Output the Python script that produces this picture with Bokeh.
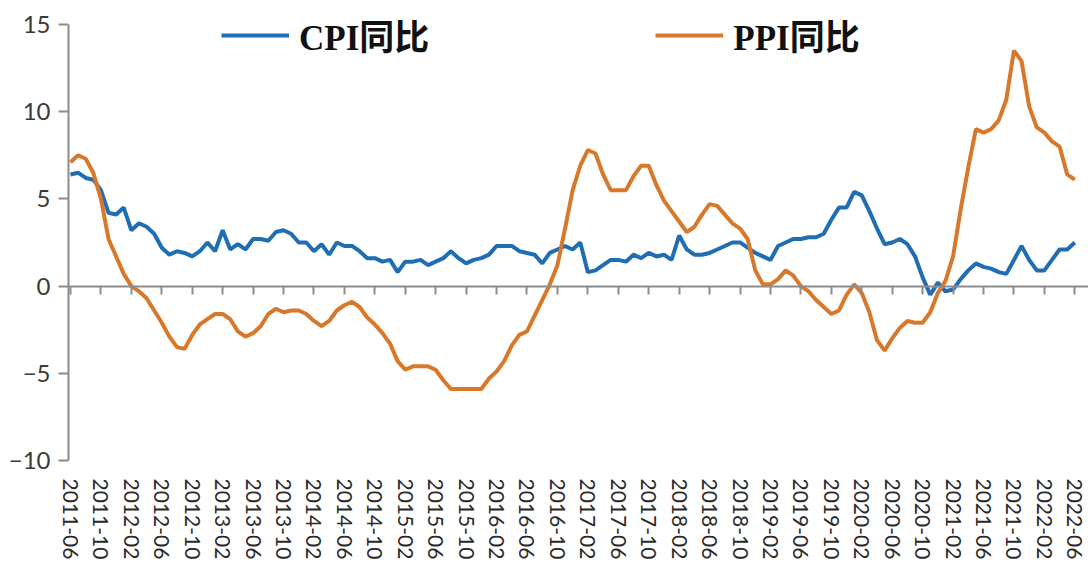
import pandas as pd
from bokeh.plotting import figure
from bokeh.models import Range1d, FixedTicker, LinearAxis, Legend, LegendItem
from bokeh.embed import file_html
from bokeh.resources import INLINE

# ---------------- data ----------------
months = pd.period_range("2011-06", "2022-06", freq="M").strftime("%Y-%m").tolist()

cpi_yoy = [
    6.4, 6.5, 6.2, 6.1, 5.5, 4.2, 4.1,
    4.5, 3.2, 3.6, 3.4, 3.0, 2.2, 1.8, 2.0, 1.9, 1.7, 2.0, 2.5,
    2.0, 3.2, 2.1, 2.4, 2.1, 2.7, 2.7, 2.6, 3.1, 3.2, 3.0, 2.5,
    2.5, 2.0, 2.4, 1.8, 2.5, 2.3, 2.3, 2.0, 1.6, 1.6, 1.4, 1.5,
    0.8, 1.4, 1.4, 1.5, 1.2, 1.4, 1.6, 2.0, 1.6, 1.3, 1.5, 1.6,
    1.8, 2.3, 2.3, 2.3, 2.0, 1.9, 1.8, 1.3, 1.9, 2.1, 2.3, 2.1,
    2.5, 0.8, 0.9, 1.2, 1.5, 1.5, 1.4, 1.8, 1.6, 1.9, 1.7, 1.8,
    1.5, 2.9, 2.1, 1.8, 1.8, 1.9, 2.1, 2.3, 2.5, 2.5, 2.2, 1.9,
    1.7, 1.5, 2.3, 2.5, 2.7, 2.7, 2.8, 2.8, 3.0, 3.8, 4.5, 4.5,
    5.4, 5.2, 4.3, 3.3, 2.4, 2.5, 2.7, 2.4, 1.7, 0.5, -0.5, 0.2,
    -0.3, -0.2, 0.4, 0.9, 1.3, 1.1, 1.0, 0.8, 0.7, 1.5, 2.3, 1.5,
    0.9, 0.9, 1.5, 2.1, 2.1, 2.5,
]

ppi_yoy = [
    7.1, 7.5, 7.3, 6.5, 5.0, 2.7, 1.7,
    0.7, 0.0, -0.3, -0.7, -1.4, -2.1, -2.9, -3.5, -3.6, -2.8, -2.2, -1.9,
    -1.6, -1.6, -1.9, -2.6, -2.9, -2.7, -2.3, -1.6, -1.3, -1.5, -1.4, -1.4,
    -1.6, -2.0, -2.3, -2.0, -1.4, -1.1, -0.9, -1.2, -1.8, -2.2, -2.7, -3.3,
    -4.3, -4.8, -4.6, -4.6, -4.6, -4.8, -5.4, -5.9, -5.9, -5.9, -5.9, -5.9,
    -5.3, -4.9, -4.3, -3.4, -2.8, -2.6, -1.7, -0.8, 0.1, 1.2, 3.3, 5.5,
    6.9, 7.8, 7.6, 6.4, 5.5, 5.5, 5.5, 6.3, 6.9, 6.9, 5.8, 4.9,
    4.3, 3.7, 3.1, 3.4, 4.1, 4.7, 4.6, 4.1, 3.6, 3.3, 2.7, 0.9,
    0.1, 0.1, 0.4, 0.9, 0.6, 0.0, -0.3, -0.8, -1.2, -1.6, -1.4, -0.5,
    0.1, -0.4, -1.5, -3.1, -3.7, -3.0, -2.4, -2.0, -2.1, -2.1, -1.5, -0.4,
    0.3, 1.7, 4.4, 6.8, 9.0, 8.8, 9.0, 9.5, 10.7, 13.5, 12.9, 10.3,
    9.1, 8.8, 8.3, 8.0, 6.4, 6.1,
]

tick_labels = [
    "2011-06", "2011-10", "2012-02", "2012-06", "2012-10", "2013-02", "2013-06",
    "2013-10", "2014-02", "2014-06", "2014-10", "2015-02", "2015-06", "2015-10",
    "2016-02", "2016-06", "2016-10", "2017-02", "2017-06", "2017-10", "2018-02",
    "2018-06", "2018-10", "2019-02", "2019-06", "2019-10", "2020-02", "2020-06",
    "2020-10", "2021-02", "2021-06", "2021-10", "2022-02", "2022-06",
]
y_ticks = [-10, -5, 0, 5, 10, 15]
series_names = ["CPI同比", "PPI同比"]

# ---------------- figure ----------------
x = list(range(len(months)))
tick_pos = [months.index(t) for t in tick_labels]

AXIS_COLOR = "#8c8c8c"
LABEL_COLOR = "#3a3a3a"
TICK_FONT = "Lato"

p = figure(
    width=1088, height=562,
    x_range=Range1d(-0.26, 133.8), y_range=Range1d(-10, 15.8),
    output_backend="svg", toolbar_location=None,
    min_border_left=68, min_border_right=0, min_border_top=10, min_border_bottom=0,
)
p.outline_line_color = None
p.xgrid.visible = False
p.ygrid.visible = False
p.background_fill_color = "white"
p.border_fill_color = "white"

# bottom axis: labels only
xa = p.xaxis[0]
xa.ticker = FixedTicker(ticks=tick_pos)
xa.major_label_overrides = {pos: lab for pos, lab in zip(tick_pos, tick_labels)}
xa.axis_line_color = None
xa.major_tick_line_color = None
xa.minor_tick_line_color = None
xa.major_label_orientation = "vertical"
xa.major_label_standoff = 12
xa.major_label_text_font = TICK_FONT
xa.major_label_text_font_size = "21px"
xa.major_label_text_color = "#2a2a2a"

# zero line axis with tick marks hanging down (no labels drawn)
zero_axis = LinearAxis(
    fixed_location=0,
    ticker=FixedTicker(ticks=tick_pos),
    major_tick_in=8, major_tick_out=0,
    major_tick_line_color=AXIS_COLOR, major_tick_line_width=2,
    minor_tick_line_color=None,
    axis_line_color=AXIS_COLOR, axis_line_width=2,
    major_label_text_color=None,
    major_label_text_font_size="6px",
    major_label_standoff=0,
)
p.add_layout(zero_axis, "above")

# y axis (line limited to -10..15)
ya = p.yaxis[0]
ya.ticker = FixedTicker(ticks=y_ticks)
ya.bounds = (-10, 15)
ya.axis_line_color = AXIS_COLOR
ya.axis_line_width = 2
ya.major_tick_line_color = AXIS_COLOR
ya.major_tick_line_width = 2
ya.major_tick_out = 10
ya.major_tick_in = 0
ya.minor_tick_line_color = None
ya.major_label_standoff = 8
ya.major_label_text_font = TICK_FONT
ya.major_label_text_font_size = "24px"
ya.major_label_text_color = LABEL_COLOR

r_cpi = p.line(x, cpi_yoy, line_color="#1f6db3", line_width=4)
r_ppi = p.line(x, ppi_yoy, line_color="#d8782a", line_width=4)

legend = Legend(
    items=[LegendItem(label=series_names[0], renderers=[r_cpi]),
           LegendItem(label=series_names[1], renderers=[r_ppi])],
    orientation="horizontal",
    location=(153, 400),
    spacing=226, glyph_width=68, glyph_height=30, label_standoff=10,
    label_text_font="'Liberation Serif', 'Noto Sans CJK SC'",
    label_text_font_style="bold", label_text_font_size="35px",
    label_text_color="#111111",
    border_line_color=None, background_fill_alpha=0, padding=0, margin=0,
)
p.add_layout(legend)

open("out.html", "w").write(file_html(p, INLINE))
